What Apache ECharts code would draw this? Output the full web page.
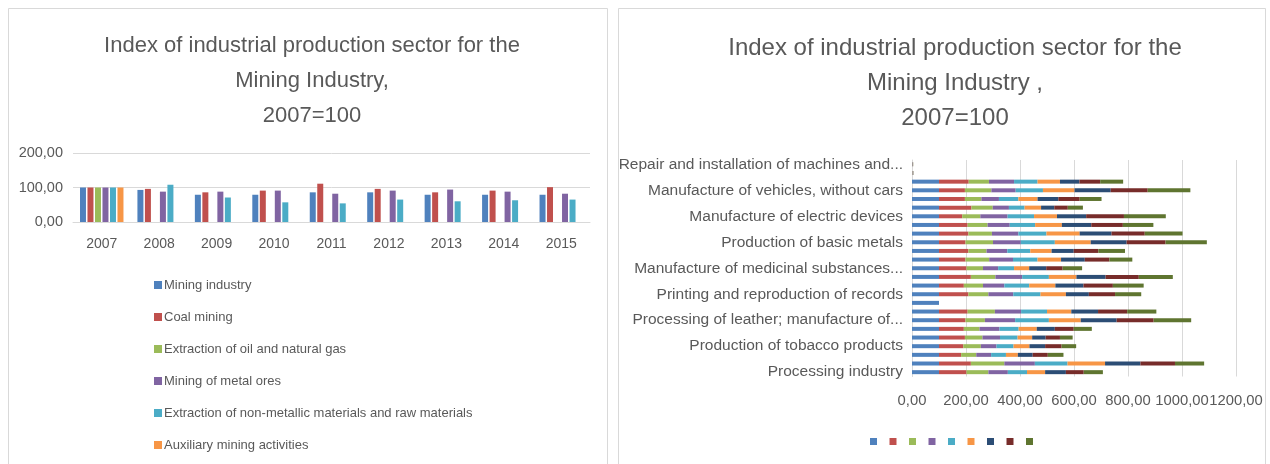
<!DOCTYPE html>
<html>
<head>
<meta charset="utf-8">
<script src="https://cdn.jsdelivr.net/npm/echarts@6/dist/echarts.min.js"></script>
<style>
  html, body { margin: 0; padding: 0; background: #fff; }
  #main { width: 1270px; height: 464px; }
</style>
</head>
<body>
<div id="main"></div>
<script>
// left chart: mining industry by year
var years = ['2007', '2008', '2009', '2010', '2011', '2012', '2013', '2014', '2015'];
var miningIndustry = [100, 93, 79, 79, 86, 86, 79, 79, 79];
var coalMining = [100, 96, 86, 91, 111, 96, 86, 91, 101];
var oilGas = [100, null, null, null, null, null, null, null, null];
var metalOres = [100, 88, 88, 91, 82, 91, 94, 88, 82];
var nonMetallic = [100, 108, 71, 57, 54, 65, 60, 63, 65];
var auxiliary = [100, null, null, null, null, null, null, null, null];

// right chart: processing branches, bottom to top
var branches = [
    'Processing industry',
    'Production of food products',
    'Production of beverages',
    'Production of tobacco products',
    'Production of textiles',
    'Production of wearing apparel',
    'Processing of leather; manufacture of...',
    'Processing of wood and wood products',
    'Production of paper and paper products',
    'Printing and reproduction of records',
    'Production of coke and petroleum products',
    'Production of chemicals and chemical products',
    'Manufacture of medicinal substances...',
    'Production of rubber and plastic products',
    'Production of other non-metallic minerals',
    'Production of basic metals',
    'Production of fabricated metal products',
    'Manufacture of computers and electronics',
    'Manufacture of electric devices',
    'Manufacture of machinery and equipment',
    'Manufacture of motor vehicles',
    'Manufacture of vehicles, without cars',
    'Manufacture of furniture',
    'Other manufacturing activities',
    'Repair and installation of machines and...'
];
var y2007 = [100, 100, 100, 100, 100, 100, 100, 100, 100, 100, 100, 100, 100, 100, 100, 100, 100, 100, 100, 100, 100, 100, 100, 0.6, 0.5];
var y2008 = [102, 118, 82, 90, 96, 92, 98, 106, null, 109, 92, 118, 102, 98, 109, 98, 109, 106, 86, 120, 96, 96, 110, 0.6, 0.5];
var y2009 = [81, 124, 56, 65, 65, 58, 72, 101, null, 74, 71, 91, 61, 88, 67, 102, 87, 74, 67, 79, 61, 98, 75, 0.6, 0.5];
var y2010 = [72, 113, 55, 58, 65, 74, 112, 97, null, 92, 79, 99, 56, 88, 77, 103, 98, 82, 101, 60, 65, 90, 93, 0.6, 0.5];
var y2011 = [71, 121, 55, 63, 65, 71, 125, 96, null, 101, 92, 99, 59, 91, 85, 126, 104, 94, 98, 58, 72, 101, 87, 0.6, 0.5];
var y2012 = [67, 139, 44, 59, 54, 67, 118, 90, null, 94, 97, 102, 56, 87, 79, 133, 123, 99, 85, 61, 71, 117, 83, 0.6, 0.5];
var y2013 = [77, 131, 55, 58, 50, 67, 133, 99, null, 85, 104, 108, 63, 88, 82, 133, 118, 109, 108, 49, 77, 134, 72, 0.6, 0.5];
var y2014 = [66, 128, 56, 61, 53, 70, 137, 108, null, 97, 109, 123, 61, 91, 91, 144, 123, 117, 140, 50, 79, 137, 77, 0.6, 0.5];
var y2015 = [71, 108, 58, 54, 47, 67, 139, 108, null, 97, 114, 126, 72, 85, 99, 153, 140, 113, 155, 56, 81, 158, 85, 0.6, 0.5];

var chart = echarts.init(document.getElementById('main'));

var font = "'Liberation Sans', Arial, sans-serif";
var grey = '#595959';
var gridColor = '#D9D9D9';
var colors = ['#4F81BD', '#C0504D', '#9BBB59', '#8064A2', '#4BACC6', '#F79646', '#2C4D75', '#772C2A', '#5F7530'];

function comma(v) {
    return v.toFixed(2).replace('.', ',');
}

var leftNames = ['Mining industry', 'Coal mining', 'Extraction of oil and natural gas',
    'Mining of metal ores', 'Extraction of non-metallic materials and raw materials', 'Auxiliary mining activities'];
var leftData = [miningIndustry, coalMining, oilGas, metalOres, nonMetallic, auxiliary];

var rightNames = years;
var rightData = [y2007, y2008, y2009, y2010, y2011, y2012, y2013, y2014, y2015];

var series = [];
leftNames.forEach(function (n, i) {
    series.push({
        name: n,
        type: 'bar',
        xAxisIndex: 0,
        yAxisIndex: 0,
        barWidth: 6,
        barGap: '25%',
        itemStyle: { color: colors[i] },
        data: leftData[i]
    });
});
rightNames.forEach(function (n, i) {
    series.push({
        name: n,
        type: 'bar',
        stack: 'total',
        xAxisIndex: 1,
        yAxisIndex: 1,
        barWidth: 4,
        itemStyle: { color: colors[i] },
        data: rightData[i]
    });
});

var option = {
    animation: false,
    backgroundColor: '#fff',
    textStyle: { fontFamily: font, color: grey },
    graphic: [
        { type: 'rect', shape: { x: 8.5, y: 8.5, width: 599, height: 470 }, style: { fill: 'none', stroke: gridColor, lineWidth: 1 } },
        { type: 'rect', shape: { x: 618.5, y: 8.5, width: 647, height: 470 }, style: { fill: 'none', stroke: gridColor, lineWidth: 1 } }
    ],
    title: [
        {
            text: 'Index of industrial production sector for the\nMining Industry,\n2007=100',
            left: 307, top: 23, textAlign: 'center',
            textStyle: { fontFamily: font, fontSize: 22, fontWeight: 'normal', color: grey, lineHeight: 35 }
        },
        {
            text: 'Index of industrial production sector for the\nMining Industry ,\n2007=100',
            left: 950, top: 26, textAlign: 'center',
            textStyle: { fontFamily: font, fontSize: 24, fontWeight: 'normal', color: grey, lineHeight: 35 }
        }
    ],
    legend: [
        {
            data: leftNames,
            orient: 'vertical',
            left: 154, top: 278,
            padding: 0,
            itemWidth: 8, itemHeight: 8, itemGap: 18,
            icon: 'rect',
            selectedMode: false,
            textStyle: { fontFamily: font, fontSize: 13, color: grey, lineHeight: 14, padding: [0, 0, 0, -3] }
        },
        {
            data: rightNames,
            orient: 'horizontal',
            left: 870, top: 438,
            padding: 0,
            itemWidth: 7, itemHeight: 7, itemGap: 12.5,
            icon: 'rect',
            selectedMode: false,
            formatter: function () { return ''; }
        }
    ],
    grid: [
        { left: 73, top: 153, width: 517, height: 69 },
        { left: 912, top: 160, width: 324, height: 216.5 }
    ],
    xAxis: [
        {
            type: 'category', gridIndex: 0, data: years,
            axisLine: { lineStyle: { color: gridColor } },
            axisTick: { show: false },
            axisLabel: { fontSize: 14, color: grey, margin: 15 }
        },
        {
            type: 'value', gridIndex: 1, min: 0, max: 1200, interval: 200,
            axisLine: { show: false },
            axisTick: { show: false },
            splitLine: { lineStyle: { color: gridColor } },
            axisLabel: {
                fontSize: 14.8, color: grey, margin: 17, formatter: comma,
                showMinLabel: true, showMaxLabel: true, hideOverlap: false
            }
        }
    ],
    yAxis: [
        {
            type: 'value', gridIndex: 0, min: 0, max: 200, interval: 100,
            axisLine: { show: false },
            axisTick: { show: false },
            splitLine: { lineStyle: { color: gridColor } },
            axisLabel: { fontSize: 14.5, color: grey, margin: 10, formatter: comma }
        },
        {
            type: 'category', gridIndex: 1, data: branches,
            axisLine: { lineStyle: { color: gridColor } },
            axisTick: { show: false },
            axisLabel: { fontSize: 15.5, color: grey, margin: 9, interval: 2 }
        }
    ],
    series: series
};

chart.setOption(option);
</script>
</body>
</html>
